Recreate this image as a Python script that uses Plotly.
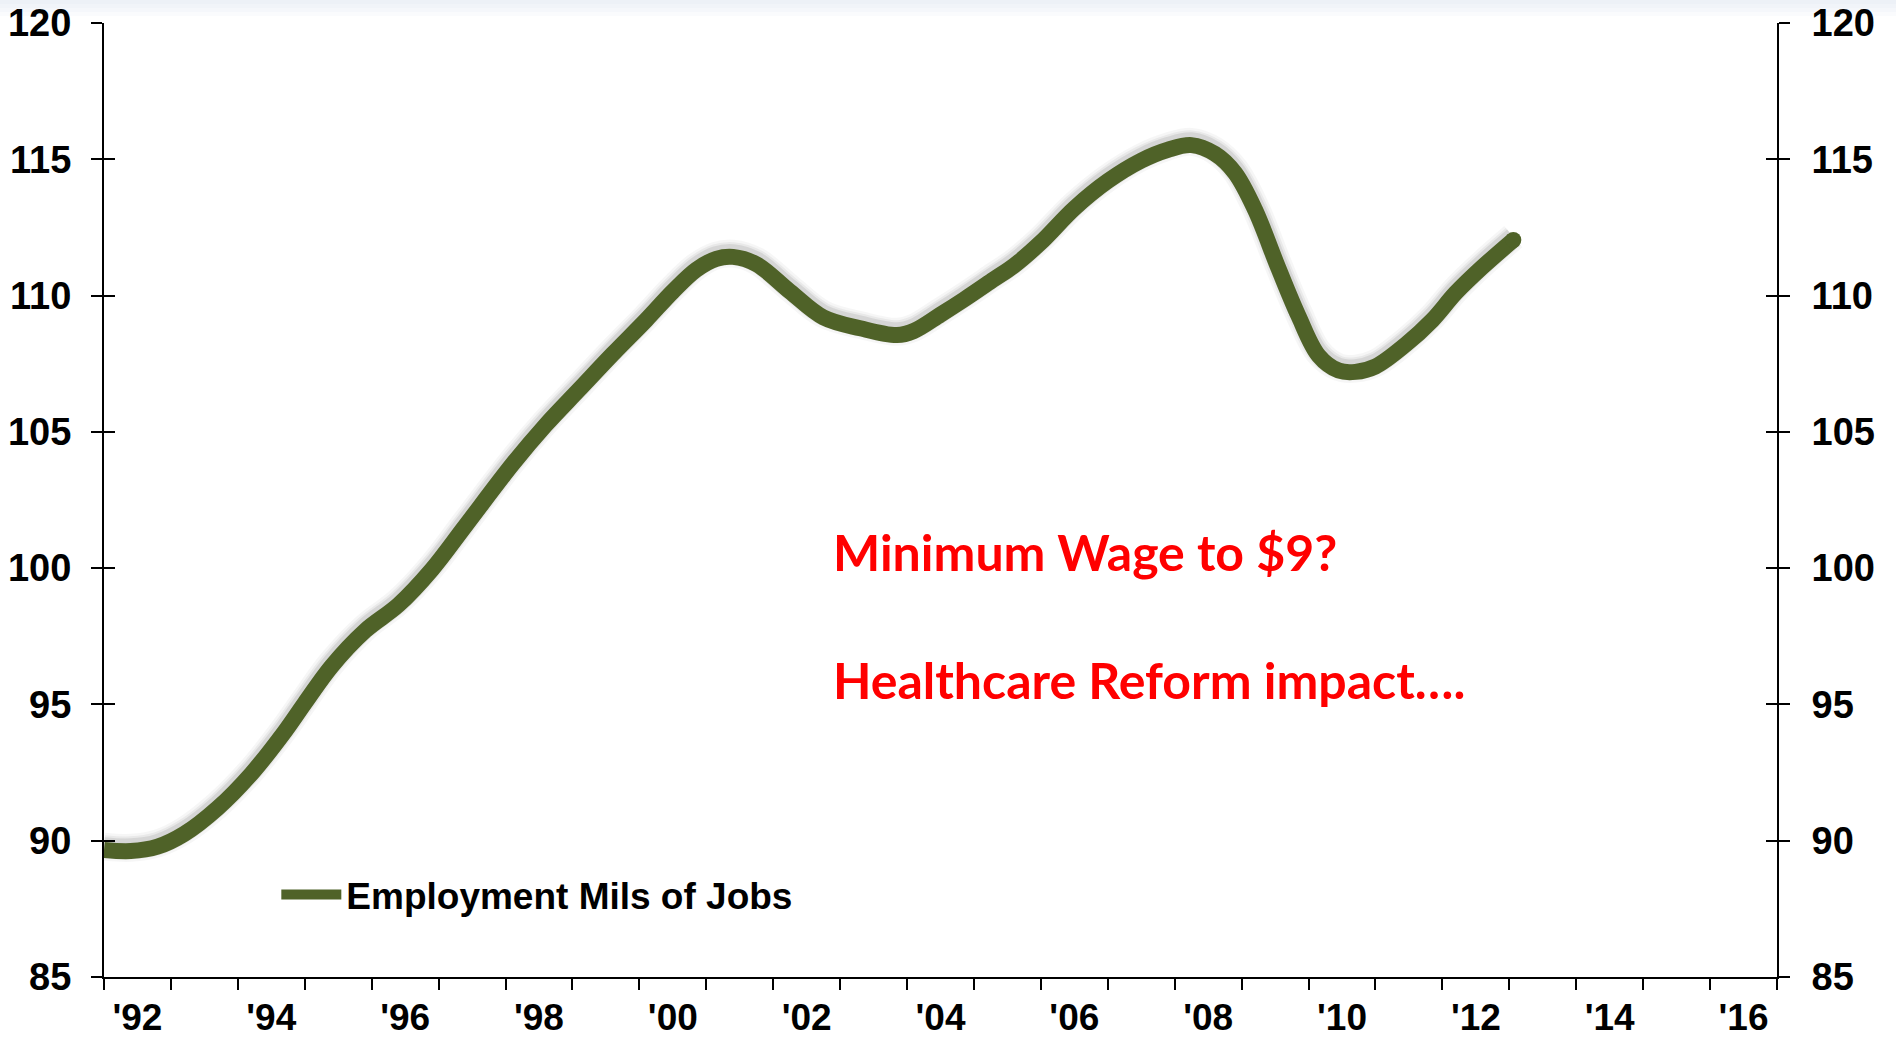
import plotly.graph_objects as go

# Private employment, millions of jobs (smoothed series)
years = [1992.0, 1992.4, 1992.8, 1993.2, 1993.7, 1994.2, 1994.7, 1995.0, 1995.4, 1995.9,
         1996.4, 1996.9, 1997.4, 1998.1, 1998.6, 1999.1, 1999.6, 2000.1, 2000.5, 2000.85,
         2001.15, 2001.4, 2001.75, 2002.25, 2002.75, 2003.3, 2003.85, 2004.1, 2004.5, 2004.85,
         2005.3, 2005.6, 2006.0, 2006.5, 2007.0, 2007.5, 2007.9, 2008.25, 2008.6, 2008.9,
         2009.2, 2009.55, 2009.85, 2010.15, 2010.45, 2010.7, 2011.0, 2011.45, 2011.85, 2012.2,
         2012.6, 2013.06]
jobs = [89.66, 89.62, 89.78, 90.25, 91.2, 92.45, 94.0, 95.05, 96.4, 97.7,
        98.65, 99.95, 101.55, 103.8, 105.25, 106.55, 107.85, 109.1, 110.15, 110.95,
        111.35, 111.42, 111.15, 110.15, 109.2, 108.8, 108.55, 108.7, 109.3, 109.85,
        110.6, 111.1, 111.95, 113.2, 114.2, 114.95, 115.35, 115.52, 115.2, 114.5,
        113.15, 111.0, 109.25, 107.8, 107.25, 107.2, 107.4, 108.2, 109.1, 110.1,
        111.05, 112.04]

series_name = "Employment Mils of Jobs"
notes = ["Minimum Wage to $9?", "Healthcare Reform impact…."]

year_ticks = list(range(1992, 2018))
label_years = list(range(1992, 2017, 2))
year_labels = ["'92", "'94", "'96", "'98", "'00", "'02", "'04", "'06", "'08", "'10", "'12", "'14", "'16"]
value_ticks = [85, 90, 95, 100, 105, 110, 115, 120]

X_RANGE = [1992, 2017]
Y_RANGE = [85, 120]
LINE = "#4F6228"
LINE_W = 16
AXIS_FONT = dict(family="Liberation Sans, Arial, sans-serif", size=38, color="black", weight="bold")
X_FONT = dict(family="Liberation Sans, Arial, sans-serif", size=37, color="black", weight="bold")

fig = go.Figure()

# soft grey glow behind the series line
for width, alpha in [(LINE_W + 12, 0.035), (LINE_W + 7, 0.05), (LINE_W + 3, 0.08)]:
    fig.add_trace(go.Scatter(
        x=years, y=[v + 0.12 for v in jobs], mode="lines",
        line=dict(color=f"rgba(0,0,0,{alpha})", width=width, shape="spline", smoothing=1.0),
        showlegend=False, hoverinfo="skip"))

fig.add_trace(go.Scatter(
    x=years, y=jobs, mode="lines", name=series_name,
    line=dict(color=LINE, width=LINE_W, shape="spline", smoothing=1.0)))

# rounded end cap on the latest observation
fig.add_trace(go.Scatter(
    x=[years[-1]], y=[jobs[-1]], mode="markers",
    marker=dict(color=LINE, size=LINE_W, line=dict(width=0)),
    showlegend=False, hoverinfo="skip"))

common_y = dict(range=Y_RANGE, tickvals=value_ticks, showgrid=False, zeroline=False,
                tickwidth=2, tickcolor="black", ticklen=11, fixedrange=True, automargin=False)

fig.update_layout(
    width=1896, height=1038,
    margin=dict(l=104, r=119, t=23, b=61),
    paper_bgcolor="white", plot_bgcolor="white",
    xaxis=dict(range=X_RANGE, tickvals=year_ticks, ticktext=[""] * len(year_ticks),
               ticks="outside", ticklen=11, tickwidth=2, tickcolor="black",
               showline=True, linecolor="black", linewidth=2, automargin=False,
               showgrid=False, zeroline=False, fixedrange=True),
    xaxis2=dict(range=X_RANGE, overlaying="x", side="bottom", anchor="y",
                tickvals=[y + 0.5 for y in label_years], ticktext=year_labels,
                ticks="", showline=False, showgrid=False, zeroline=False, automargin=False,
                tickfont=X_FONT, ticklabelstandoff=15, fixedrange=True),
    yaxis=dict(side="left", ticks="outside", showline=True, linecolor="black", linewidth=2,
               tickfont=AXIS_FONT, ticklabelstandoff=12, **common_y),
    yaxis2=dict(side="right", overlaying="y", anchor="x", ticks="outside", showline=True,
                linecolor="black", linewidth=2, tickfont=AXIS_FONT, ticklabelstandoff=14,
                **common_y),
    yaxis3=dict(side="left", overlaying="y", anchor="x", ticks="inside", showline=False,
                showticklabels=False, **common_y),
    yaxis4=dict(side="right", overlaying="y", anchor="x", ticks="inside", showline=False,
                showticklabels=False, **common_y),
    legend=dict(x=0.103, y=0.086, xanchor="left", yanchor="middle",
                bgcolor="rgba(0,0,0,0)", itemwidth=60,
                font=dict(family="Liberation Sans, Arial, sans-serif", size=37,
                          color="black", weight="bold")),
    showlegend=True,
)

# placeholder traces so the overlay axes are laid out
fig.add_trace(go.Scatter(x=[None], y=[None], xaxis="x2", yaxis="y", showlegend=False, hoverinfo="skip"))
fig.add_trace(go.Scatter(x=[None], y=[None], xaxis="x", yaxis="y2", showlegend=False, hoverinfo="skip"))
fig.add_trace(go.Scatter(x=[None], y=[None], xaxis="x", yaxis="y3", showlegend=False, hoverinfo="skip"))
fig.add_trace(go.Scatter(x=[None], y=[None], xaxis="x", yaxis="y4", showlegend=False, hoverinfo="skip"))

note_font = dict(family="Lato, Open Sans, sans-serif", size=50, color="#FF0000", weight="bold")
for text, yv in zip(notes, [100.6, 95.9]):
    fig.add_annotation(x=2002.86, y=yv, xref="x", yref="y", text=text, showarrow=False,
                       xanchor="left", yanchor="middle", font=note_font)

# faint header band along the top edge
for h in [4, 8, 12, 16]:
    fig.add_shape(type="rect", xref="paper", yref="paper",
                  x0=-0.07, x1=1.08, y0=(977 - h) / 954, y1=1.03,
                  fillcolor="rgba(215,224,238,0.12)", line=dict(width=0), layer="below")

fig.write_html("out.html")
